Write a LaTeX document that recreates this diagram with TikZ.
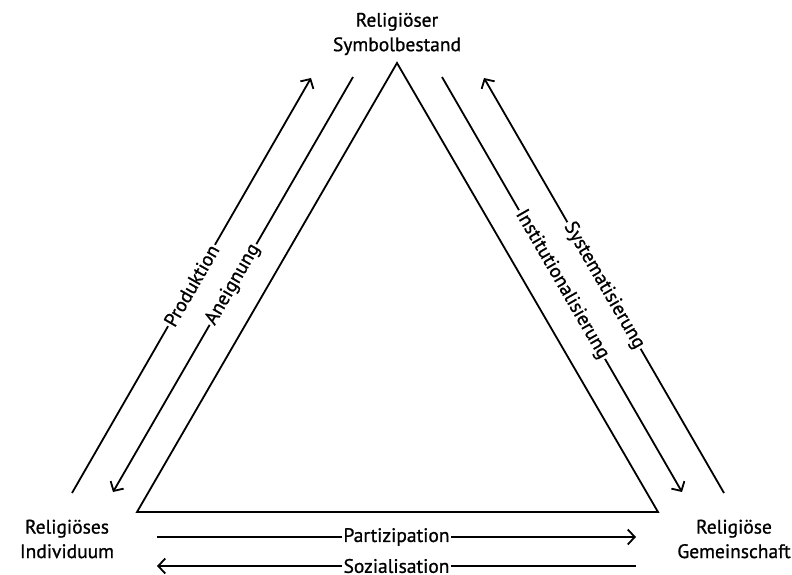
\documentclass[tikz,border=0pt]{standalone}
\usepackage{fontspec}
\setmainfont{PT Sans}[FakeBold=0.9]
\usetikzlibrary{arrows.meta}

\begin{document}
\begin{tikzpicture}[
  x=1pt, y=-1pt,
  every node/.style={font=\fontsize{19.5}{24.5}\selectfont},
  pole/.style={align=center, inner sep=0pt},
  line/.style={line width=1.8pt},
  flow/.style={line width=1.8pt, -{Straight Barb[length=7pt, width=15pt, line width=1.8pt]}},
  tag/.style={sloped, fill=white, inner sep=1.5pt, pos=0.5},
]
  \useasboundingbox (0,0) rectangle (792,575);

  % Pole
  \node[pole] (sym) at (397,34) {Religiöser\\Symbolbestand};
  \node[pole] (ind) at (67,539) {Religiöses\\Individuum};
  \node[pole] (gem) at (734,539) {Religiöse\\Gemeinschaft};

  % Dreieck
  \coordinate (top) at (397,63);
  \coordinate (bl) at (137,512);
  \coordinate (br) at (658,512);
  \draw[line, line join=miter] (top) -- (br) -- (bl) -- cycle;

  % linke Seite
  \coordinate (prodA) at (72,493);
  \coordinate (prodB) at (311,78);
  \coordinate (aneiA) at (353,77);
  \coordinate (aneiB) at (113,492);
  \draw[flow] (prodA) -- node[tag]{Produktion} (prodB);
  \draw[flow] (aneiA) -- node[tag]{Aneignung} (aneiB);

  % rechte Seite
  \coordinate (instA) at (442,77);
  \coordinate (instB) at (682,492);
  \coordinate (systA) at (724,493);
  \coordinate (systB) at (484,78);
  \draw[flow] (instA) -- node[tag]{Institutionalisierung} (instB);
  \draw[flow] (systA) -- node[tag]{Systematisierung} (systB);

  % unten
  \coordinate (partA) at (157,537);
  \coordinate (partB) at (636,537);
  \coordinate (soziA) at (636,566);
  \coordinate (soziB) at (157,566);
  \draw[flow] (partA) -- node[fill=white, inner sep=1.5pt]{Partizipation} (partB);
  \draw[flow] (soziA) -- node[fill=white, inner sep=1.5pt]{Sozialisation} (soziB);
\end{tikzpicture}
\end{document}
